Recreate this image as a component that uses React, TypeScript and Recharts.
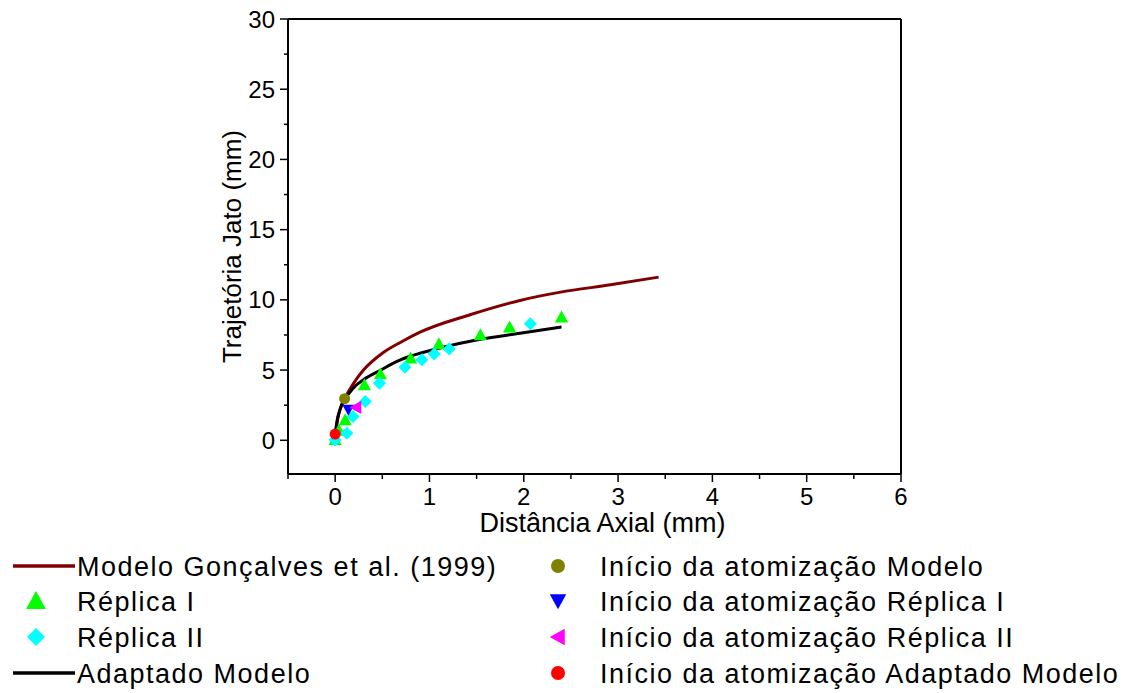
import React from 'react';
import { ComposedChart, Line, Scatter, XAxis, YAxis, ReferenceLine, Legend } from 'recharts';

// Modelo Gonçalves et al. (1999)
const modelX = [0, 0.03, 0.07, 0.1, 0.19, 0.3, 0.5, 0.7, 0.9, 1.43, 1.96, 2.39, 2.92, 3.43];
const modelY = [0.3, 1.6, 2.55, 2.96, 4.0, 5.0, 6.2, 7.0, 7.7, 8.94, 9.96, 10.55, 11.07, 11.62];
// Adaptado Modelo
const adaptX = [0, 0.02, 0.05, 0.1, 0.16, 0.22, 0.3, 0.49, 0.65, 0.8, 0.9, 1.1, 1.54, 1.96, 2.4];
const adaptY = [0.44, 1.4, 2.17, 2.9, 3.45, 3.9, 4.31, 5.02, 5.6, 6.0, 6.2, 6.56, 7.2, 7.62, 8.06];
// Réplica I
const rep1X = [0, 0.04, 0.106, 0.31, 0.48, 0.8, 1.1, 1.54, 1.85, 2.4];
const rep1Y = [0.05, 0.7, 1.46, 3.95, 4.74, 5.85, 6.87, 7.51, 8.06, 8.77];
// Réplica II
const rep2X = [0, 0.124, 0.19, 0.32, 0.47, 0.74, 0.92, 1.05, 1.21, 2.07];
const rep2Y = [0.03, 0.51, 1.7, 2.77, 4.07, 5.2, 5.73, 6.14, 6.5, 8.3];
// Início da atomização points
const startModel = [{ x: 0.1, y: 2.96 }];
const startRep1 = [{ x: 0.14, y: 2.17 }];
const startRep2 = [{ x: 0.22, y: 2.34 }];
const startAdapt = [{ x: 0, y: 0.44 }];

const seriesNames = [
  'Modelo Gonçalves et al. (1999)',
  'Réplica I',
  'Réplica II',
  'Adaptado Modelo',
  'Início da atomização Modelo',
  'Início da atomização Réplica I',
  'Início da atomização Réplica II',
  'Início da atomização Adaptado Modelo',
];

const xTicks = [-0.5, 0, 0.5, 1, 1.5, 2, 2.5, 3, 3.5, 4, 4.5, 5, 5.5, 6];
const yTicks = [0, 2.5, 5, 7.5, 10, 12.5, 15, 17.5, 20, 22.5, 25, 27.5, 30];

const toPts = (xs: number[], ys: number[]) => xs.map((x, i) => ({ x, y: ys[i] }));
const modelData = toPts(modelX, modelY);
const adaptData = toPts(adaptX, adaptY);
const rep1Data = toPts(rep1X, rep1Y);
const rep2Data = toPts(rep2X, rep2Y);

const FONT = '"Liberation Sans", Arial, sans-serif';

const XTick = (props: any) => {
  const { x, y, payload } = props;
  const v = payload.value;
  const major = Number.isInteger(v);
  return (
    <g>
      <line x1={x} x2={x} y1={y} y2={y + (major ? 8 : 5)} stroke="#000" strokeWidth={1.5} />
      {major && (
        <text x={x} y={y + 31} textAnchor="middle" fontSize={24} fontFamily={FONT} fill="#000">
          {v}
        </text>
      )}
    </g>
  );
};

const YTick = (props: any) => {
  const { x, y, payload } = props;
  const v = payload.value;
  const major = v % 5 === 0;
  return (
    <g>
      <line x1={x} x2={x - (major ? 8 : 4)} y1={y} y2={y} stroke="#000" strokeWidth={1.5} />
      {major && (
        <text x={x - 13} y={y + 8.5} textAnchor="end" fontSize={24} fontFamily={FONT} fill="#000">
          {v}
        </text>
      )}
    </g>
  );
};

const triUp = (cx: number, cy: number, s: number) =>
  `${cx},${cy - s * 0.55} ${cx + s * 0.55},${cy + s * 0.45} ${cx - s * 0.55},${cy + s * 0.45}`;
const triDown = (cx: number, cy: number, s: number) =>
  `${cx},${cy + s * 0.55} ${cx + s * 0.55},${cy - s * 0.45} ${cx - s * 0.55},${cy - s * 0.45}`;
const triLeft = (cx: number, cy: number, s: number) =>
  `${cx - s * 0.55},${cy} ${cx + s * 0.45},${cy - s * 0.55} ${cx + s * 0.45},${cy + s * 0.55}`;
const diamond = (cx: number, cy: number, s: number) =>
  `${cx},${cy - s / 2} ${cx + s / 2},${cy} ${cx},${cy + s / 2} ${cx - s / 2},${cy}`;

const GreenTri = (p: any) => <polygon points={triUp(p.cx, p.cy, 12)} fill="#00ff00" />;
const CyanDia = (p: any) => <polygon points={diamond(p.cx, p.cy, 13)} fill="#00ffff" />;
const OliveDot = (p: any) => <circle cx={p.cx} cy={p.cy} r={5.5} fill="#808000" />;
const BlueTri = (p: any) => <polygon points={triDown(p.cx, p.cy, 11)} fill="#0000ff" />;
const MagTri = (p: any) => <polygon points={triLeft(p.cx, p.cy, 12)} fill="#ff00ff" />;
const RedDot = (p: any) => <circle cx={p.cx} cy={p.cy} r={5.5} fill="#ff0000" />;

const LegendContent = () => {
  const rows = [26, 61, 97, 133];
  const textStyle = { fontSize: 27, fontFamily: FONT, letterSpacing: 1.5, fill: '#000' } as any;
  return (
    <svg width={1127} height={153} style={{ display: 'block' }}>
      <line x1={13} x2={75} y1={rows[0]} y2={rows[0]} stroke="#800000" strokeWidth={3.5} />
      <text x={77} y={rows[0] + 10} {...textStyle}>{seriesNames[0]}</text>
      <polygon points={triUp(36, rows[1], 18)} fill="#00ff00" />
      <text x={77} y={rows[1] + 10} {...textStyle}>{seriesNames[1]}</text>
      <polygon points={diamond(36, rows[2], 18)} fill="#00ffff" />
      <text x={77} y={rows[2] + 10} {...textStyle}>{seriesNames[2]}</text>
      <line x1={13} x2={75} y1={rows[3]} y2={rows[3]} stroke="#000" strokeWidth={3.5} />
      <text x={77} y={rows[3] + 10} {...textStyle}>{seriesNames[3]}</text>

      <circle cx={558} cy={rows[0]} r={7} fill="#808000" />
      <text x={600} y={rows[0] + 10} {...textStyle}>{seriesNames[4]}</text>
      <polygon points={triDown(558, rows[1], 15)} fill="#0000ff" />
      <text x={600} y={rows[1] + 10} {...textStyle}>{seriesNames[5]}</text>
      <polygon points={triLeft(558, rows[2], 15)} fill="#ff00ff" />
      <text x={600} y={rows[2] + 10} {...textStyle}>{seriesNames[6]}</text>
      <circle cx={558} cy={rows[3]} r={7} fill="#ff0000" />
      <text x={600} y={rows[3] + 10} {...textStyle}>{seriesNames[7]}</text>
    </svg>
  );
};

export default function App() {
  return (
    <div style={{ position: 'absolute', left: 0, top: 0, background: '#fff' }}>
      <ComposedChart
        width={1127}
        height={693}
        margin={{ top: 19, left: 208, right: 226, bottom: 159 }}
      >
        <XAxis
          type="number"
          dataKey="x"
          domain={[-0.5, 6]}
          ticks={xTicks}
          interval={0}
          allowDataOverflow
          height={60}
          tickSize={0}
          tickMargin={0}
          tickLine={false}
          axisLine={{ stroke: '#000', strokeWidth: 2 }}
          tick={<XTick />}
          label={{
            content: (p: any) => {
              const vb = p.viewBox;
              return (
                <text x={vb.x + vb.width / 2 + 8} y={vb.y + 58} textAnchor="middle" fontSize={27} fontFamily={FONT} fill="#000">
                  Distância Axial (mm)
                </text>
              );
            },
          }}
        />
        <YAxis
          type="number"
          dataKey="y"
          domain={[-2.4, 30]}
          ticks={yTicks}
          interval={0}
          allowDataOverflow
          width={80}
          tickSize={0}
          tickMargin={0}
          tickLine={false}
          axisLine={{ stroke: '#000', strokeWidth: 2 }}
          tick={<YTick />}
          label={{
            content: (p: any) => {
              const vb = p.viewBox;
              const cx = vb.x + 24;
              const cy = vb.y + vb.height / 2;
              return (
                <text x={cx} y={cy} transform={`rotate(-90 ${cx} ${cy})`} textAnchor="middle" dominantBaseline="central" fontSize={26} fontFamily={FONT} fill="#000">
                  Trajetória Jato (mm)
                </text>
              );
            },
          }}
        />
        <ReferenceLine y={30} stroke="#000" strokeWidth={2} />
        <ReferenceLine x={6} stroke="#000" strokeWidth={2} />
        <Line data={modelData} dataKey="y" type="monotone" stroke="#800000" strokeWidth={3} dot={false} isAnimationActive={false} name={seriesNames[0]} />
        <Scatter data={rep1Data} dataKey="y" shape={GreenTri} isAnimationActive={false} name={seriesNames[1]} />
        <Scatter data={rep2Data} dataKey="y" shape={CyanDia} isAnimationActive={false} name={seriesNames[2]} />
        <Line data={adaptData} dataKey="y" type="monotone" stroke="#000" strokeWidth={3} dot={false} isAnimationActive={false} name={seriesNames[3]} />
        <Scatter data={startModel} dataKey="y" shape={OliveDot} isAnimationActive={false} name={seriesNames[4]} />
        <Scatter data={startRep1} dataKey="y" shape={BlueTri} isAnimationActive={false} name={seriesNames[5]} />
        <Scatter data={startRep2} dataKey="y" shape={MagTri} isAnimationActive={false} name={seriesNames[6]} />
        <Scatter data={startAdapt} dataKey="y" shape={RedDot} isAnimationActive={false} name={seriesNames[7]} />
        <Legend
          layout="horizontal"
          verticalAlign="middle"
          align="center"
          content={<LegendContent />}
          wrapperStyle={{ left: 0, top: 540, width: 1127, height: 153 }}
        />
      </ComposedChart>
    </div>
  );
}
